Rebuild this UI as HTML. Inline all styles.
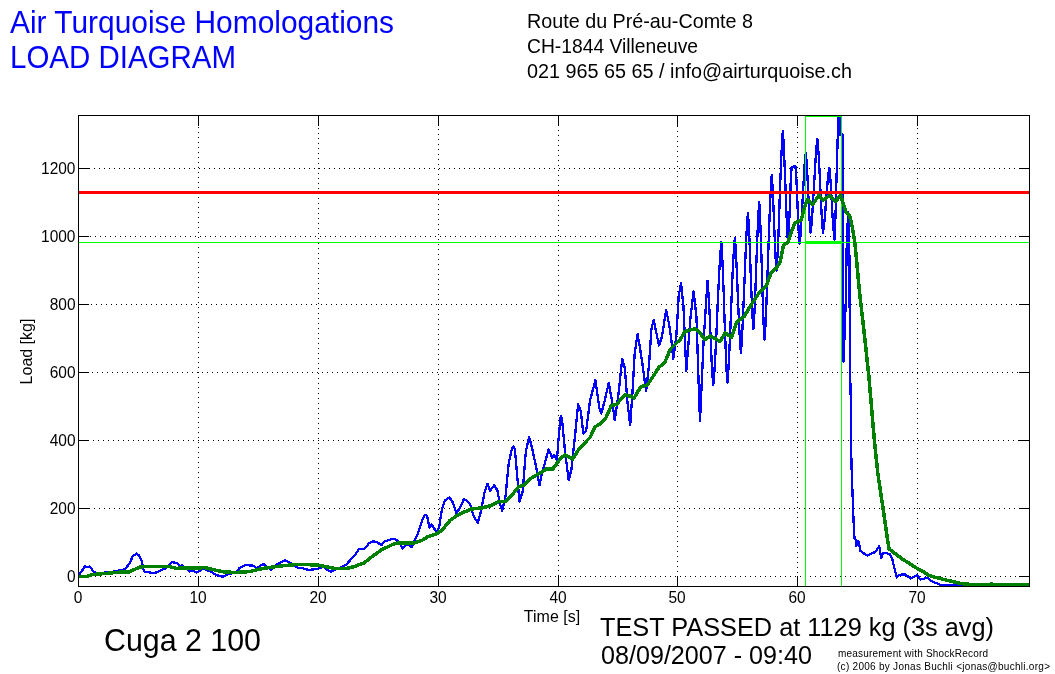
<!DOCTYPE html>
<html><head><meta charset="utf-8"><title>Load Diagram</title>
<style>html,body{margin:0;padding:0;background:#fff;}body{width:1055px;height:674px;overflow:hidden;}svg{display:block;}</style>
</head><body>
<svg width="1055" height="674" viewBox="0 0 1055 674">
<rect x="0" y="0" width="1055" height="674" fill="#fff"/>
<g stroke="#000" stroke-width="1" stroke-dasharray="1 4" shape-rendering="crispEdges"><line x1="198.5" y1="116" x2="198.5" y2="586" stroke-dashoffset="4"/><line x1="318.5" y1="116" x2="318.5" y2="586" stroke-dashoffset="3"/><line x1="438.5" y1="116" x2="438.5" y2="586" stroke-dashoffset="2"/><line x1="558.5" y1="116" x2="558.5" y2="586" stroke-dashoffset="1"/><line x1="677.5" y1="116" x2="677.5" y2="586" stroke-dashoffset="0"/><line x1="797.5" y1="116" x2="797.5" y2="586" stroke-dashoffset="4"/><line x1="917.5" y1="116" x2="917.5" y2="586" stroke-dashoffset="3"/><line x1="79" y1="576.5" x2="1029" y2="576.5" stroke-dashoffset="4"/><line x1="79" y1="508.5" x2="1029" y2="508.5" stroke-dashoffset="0"/><line x1="79" y1="440.5" x2="1029" y2="440.5" stroke-dashoffset="1"/><line x1="79" y1="372.5" x2="1029" y2="372.5" stroke-dashoffset="2"/><line x1="79" y1="304.5" x2="1029" y2="304.5" stroke-dashoffset="3"/><line x1="79" y1="236.5" x2="1029" y2="236.5" stroke-dashoffset="4"/><line x1="79" y1="168.5" x2="1029" y2="168.5" stroke-dashoffset="0"/></g>
<g stroke="#000" stroke-width="1" shape-rendering="crispEdges"><rect x="78.5" y="115.5" width="951" height="471" fill="none"/><line x1="78.5" y1="586" x2="78.5" y2="576"/><line x1="78.5" y1="115" x2="78.5" y2="126"/><line x1="198.5" y1="586" x2="198.5" y2="576"/><line x1="198.5" y1="115" x2="198.5" y2="126"/><line x1="318.5" y1="586" x2="318.5" y2="576"/><line x1="318.5" y1="115" x2="318.5" y2="126"/><line x1="438.5" y1="586" x2="438.5" y2="576"/><line x1="438.5" y1="115" x2="438.5" y2="126"/><line x1="558.5" y1="586" x2="558.5" y2="576"/><line x1="558.5" y1="115" x2="558.5" y2="126"/><line x1="677.5" y1="586" x2="677.5" y2="576"/><line x1="677.5" y1="115" x2="677.5" y2="126"/><line x1="797.5" y1="586" x2="797.5" y2="576"/><line x1="797.5" y1="115" x2="797.5" y2="126"/><line x1="917.5" y1="586" x2="917.5" y2="576"/><line x1="917.5" y1="115" x2="917.5" y2="126"/><line x1="78" y1="576.5" x2="89" y2="576.5"/><line x1="1030" y1="576.5" x2="1019" y2="576.5"/><line x1="78" y1="508.5" x2="89" y2="508.5"/><line x1="1030" y1="508.5" x2="1019" y2="508.5"/><line x1="78" y1="440.5" x2="89" y2="440.5"/><line x1="1030" y1="440.5" x2="1019" y2="440.5"/><line x1="78" y1="372.5" x2="89" y2="372.5"/><line x1="1030" y1="372.5" x2="1019" y2="372.5"/><line x1="78" y1="304.5" x2="89" y2="304.5"/><line x1="1030" y1="304.5" x2="1019" y2="304.5"/><line x1="78" y1="236.5" x2="89" y2="236.5"/><line x1="1030" y1="236.5" x2="1019" y2="236.5"/><line x1="78" y1="168.5" x2="89" y2="168.5"/><line x1="1030" y1="168.5" x2="1019" y2="168.5"/></g>
<defs><clipPath id="ax"><rect x="79" y="116" width="950" height="470"/></clipPath></defs>
<g clip-path="url(#ax)">
<polyline fill="none" stroke="#0000ff" stroke-width="2.3" stroke-linejoin="round" shape-rendering="crispEdges" points="78.5,575.5 79.3,574.5 82.4,570.2 84.9,566.5 87.3,566.9 89.5,566.5 91.6,569.0 93.5,571.4 96.0,572.7 99.6,573.0 103.3,572.7 109.5,572.3 114.4,571.4 118.1,570.6 121.8,570.2 125.5,568.6 129.2,564.0 132.9,556.0 136.6,553.6 139.1,555.4 141.5,560.3 142.2,563.4 143.4,569.6 145.2,572.3 148.9,572.3 153.9,573.3 158.8,571.4 162.5,569.6 166.2,568.1 169.9,564.0 172.4,561.9 174.8,562.8 177.3,563.4 179.7,565.9 182.2,565.3 183.4,566.5 185.9,567.7 189.6,571.4 193.3,570.8 196.4,572.7 199.5,570.8 203.7,568.1 207.4,570.6 211.1,571.8 216.0,574.9 222.2,576.8 228.3,574.3 230.8,573.7 237.0,571.8 239.4,568.1 245.6,565.0 253.0,565.7 256.7,568.1 260.4,565.7 263.5,564.2 266.5,566.3 270.9,570.0 273.9,566.9 277.6,563.8 281.3,562.0 285.0,560.1 288.7,562.0 291.2,563.2 297.4,567.5 304.7,568.7 308.4,570.0 313.4,569.4 318.3,568.7 323.2,566.9 326.9,569.4 330.6,571.8 333.5,570.4 340.5,567.6 346.2,564.8 350.4,559.9 354.6,555.6 358.8,549.3 363.1,549.3 365.9,547.2 368.7,543.6 373.6,541.2 377.9,542.7 381.4,545.1 384.2,541.5 388.5,540.1 392.7,538.7 395.5,539.4 398.3,541.5 401.1,545.8 402.6,548.3 405.4,545.1 409.6,545.1 411.7,547.2 413.8,541.5 418.1,533.1 422.3,519.7 425.1,514.7 427.2,516.2 429.3,527.4 431.5,524.6 433.6,527.4 436.4,532.4 439.2,526.7 442.0,509.1 444.9,500.6 449.1,497.5 451.9,500.6 452.4,501.6 456.5,513.0 459.8,508.1 463.9,499.2 468.0,501.6 470.4,504.9 473.7,516.3 477.7,522.8 481.0,511.4 484.3,493.4 487.5,483.7 490.0,491.0 494.1,485.3 497.3,490.2 499.8,503.2 502.2,510.6 505.5,496.7 508.8,462.4 512.0,448.6 513.5,446.5 514.8,448.6 516.9,472.2 519.4,501.6 522.6,491.8 525.9,451.0 529.2,437.1 532.4,449.4 536.5,469.0 539.4,485.3 542.2,472.2 545.5,460.8 548.7,449.4 552.0,457.5 554.5,455.1 556.9,460.8 558.5,439.6 560.7,416.2 562.0,418.9 564.7,448.3 568.7,480.3 571.4,469.7 575.4,432.2 578.1,404.2 580.7,410.9 583.4,433.6 586.1,430.9 590.1,400.2 595.4,380.1 599.4,408.2 601.3,413.5 604.8,400.2 608.8,382.8 612.8,405.5 614.7,420.2 618.1,397.5 622.2,358.7 624.8,368.1 627.5,402.8 630.2,425.0 632.4,393.4 634.7,353.1 637.6,334.1 640.0,348.3 641.9,360.2 646.1,391.1 649.0,365.0 651.4,329.3 653.7,319.9 656.6,334.1 659.0,345.5 662.0,336.5 666.1,309.9 669.2,324.6 671.5,341.2 673.2,359.0 676.3,336.5 678.7,296.1 681.0,283.1 683.4,305.6 686.3,370.9 690.5,317.5 693.6,291.4 696.5,317.5 698.4,376.8 700.0,421.0 703.6,341.2 707.5,280.7 708.2,289.2 709.0,301.4 709.7,316.4 710.4,332.9 711.1,349.5 711.8,364.5 712.6,376.7 713.3,385.2 714.3,373.6 715.3,356.9 716.3,336.4 717.3,313.8 718.3,291.2 719.3,270.7 720.3,254.0 721.3,242.4 722.1,253.8 722.8,270.2 723.6,290.4 724.3,312.6 725.1,334.7 725.9,354.9 726.6,371.3 727.4,382.7 728.3,370.9 729.2,354.0 730.2,333.2 731.1,310.2 732.0,287.3 732.9,266.5 733.9,249.6 734.8,237.8 735.6,247.2 736.3,260.6 737.1,277.2 737.8,295.4 738.6,313.6 739.4,330.2 740.1,343.6 740.9,353.0 741.8,341.6 742.6,325.3 743.5,305.2 744.4,283.1 745.3,261.1 746.1,241.0 747.0,224.7 747.9,213.3 748.6,222.7 749.3,236.2 750.0,252.8 750.6,271.1 751.3,289.5 752.0,306.1 752.7,319.6 753.4,329.0 754.1,318.6 754.9,303.8 755.6,285.5 756.3,265.4 757.0,245.2 757.8,226.9 758.5,212.1 759.2,201.7 759.9,212.9 760.5,229.0 761.2,248.8 761.9,270.6 762.5,292.4 763.2,312.2 763.8,328.3 764.5,339.5 765.4,326.1 766.3,306.9 767.2,283.3 768.1,257.2 769.0,231.2 769.9,207.6 770.8,188.4 771.7,175.0 772.3,182.8 772.9,194.0 773.5,207.7 774.1,222.9 774.7,238.1 775.3,251.8 775.9,263.0 776.5,270.8 777.3,259.4 778.1,243.2 778.9,223.1 779.6,201.1 780.4,179.1 781.2,159.0 782.0,142.8 782.8,131.4 783.5,140.5 784.1,153.6 784.8,169.6 785.5,187.3 786.1,205.0 786.8,221.0 787.4,234.1 788.1,243.2 788.5,237.0 789.0,228.1 789.4,217.2 789.9,205.1 790.3,193.0 790.7,182.1 791.2,173.2 791.6,167.0 792.1,166.9 792.5,166.8 793.0,166.7 793.5,166.5 794.0,166.3 794.5,166.2 794.9,166.1 795.4,166.0 795.9,172.3 796.5,181.4 797.0,192.5 797.5,204.8 798.0,217.0 798.5,228.1 799.1,237.2 799.6,243.5 800.4,236.1 801.1,225.5 801.9,212.4 802.7,198.1 803.5,183.7 804.2,170.6 805.0,160.0 805.8,152.6 806.4,159.1 807.0,168.5 807.6,179.9 808.2,192.6 808.8,205.3 809.4,216.7 810.0,226.1 810.6,232.6 811.5,225.0 812.3,214.1 813.1,200.6 814.0,185.8 814.9,171.1 815.7,157.6 816.5,146.7 817.4,139.1 818.1,146.7 818.8,157.6 819.5,171.1 820.2,185.8 820.9,200.6 821.6,214.1 822.3,225.0 823.0,232.6 823.8,227.3 824.6,219.7 825.4,210.4 826.1,200.1 826.9,189.9 827.7,180.6 828.5,173.0 829.3,167.7 829.9,173.6 830.6,182.0 831.2,192.3 831.9,203.8 832.5,215.2 833.2,225.5 833.9,233.9 834.5,239.8 835.0,229.7 835.5,215.4 836.0,197.7 836.5,178.2 837.1,158.6 837.6,140.9 838.1,126.6 838.6,116.5 839.9,116.5 839.9,134.5 842.4,134.5 842.4,250.0 843.6,361.5 845.8,300.0 846.8,240.0 848.2,212.0 849.2,225.0 849.6,300.0 850.3,380.0 850.8,400.0 851.4,462.4 852.2,485.0 853.5,520.0 854.5,538.3 856.7,540.4 856.2,545.6 858.8,541.5 860.3,550.9 862.9,552.9 867.6,555.5 871.3,553.5 875.5,551.9 879.1,546.2 880.1,550.9 881.2,558.2 882.8,553.5 885.9,552.7 890.1,554.5 892.1,558.2 894.2,567.5 896.8,577.4 899.4,574.8 904.7,574.3 910.9,578.5 915.1,576.4 917.2,574.8 920.3,579.5 923.4,579.0 927.6,577.4 930.7,580.6 933.1,582.1 936.3,583.2 940.4,584.7 961.3,585.2 1029.0,585.2"/>
<g stroke="#00ff00" stroke-width="1" fill="none" shape-rendering="crispEdges"><line x1="79" y1="242.5" x2="1029" y2="242.5"/><line x1="805.5" y1="116" x2="805.5" y2="586"/><line x1="841.5" y1="116" x2="841.5" y2="586"/><line x1="805" y1="116.5" x2="842" y2="116.5"/></g>
<rect x="805" y="241" width="37" height="3" fill="#00ff00" shape-rendering="crispEdges"/>
<rect x="79" y="191" width="950" height="3" fill="#ff0000" shape-rendering="crispEdges"/>
<polyline fill="none" stroke="#008000" stroke-width="3.5" stroke-linejoin="round" shape-rendering="crispEdges" points="78.5,576.5 87.3,576.4 92.3,574.5 105.8,573.5 118.1,572.3 129.2,571.8 134.2,569.6 140.3,566.9 148.9,566.5 168.7,566.5 176.0,568.3 205.0,567.7 212.3,569.4 224.6,572.1 237.0,572.4 249.3,571.6 261.6,568.7 273.9,566.9 286.3,565.4 298.6,564.4 317.1,565.0 330.0,567.5 336.3,568.6 346.2,568.6 353.2,566.9 364.5,562.7 371.5,557.0 381.4,550.0 392.7,544.4 398.3,543.0 413.8,543.0 422.3,540.1 427.9,536.6 436.4,533.8 442.0,530.3 447.7,523.2 450.0,520.4 458.2,514.7 471.2,509.0 482.6,507.8 490.8,505.7 499.0,501.6 505.5,501.6 512.0,495.1 518.5,486.9 523.4,485.3 531.6,477.9 541.4,472.2 546.3,469.0 552.8,469.0 560.0,459.2 564.7,455.0 572.7,459.0 579.4,448.3 590.0,437.5 595.3,426.8 600.7,423.4 606.0,417.5 611.4,405.5 616.7,404.2 624.7,394.8 630.0,396.1 634.0,398.3 640.7,386.8 647.4,384.9 654.1,374.8 659.4,366.8 664.7,362.8 670.1,349.4 675.4,344.1 680.8,338.8 684.8,331.5 690.1,329.9 695.4,328.9 699.5,332.1 704.8,339.6 710.1,336.1 715.5,338.8 720.0,341.4 725.3,332.8 731.6,337.4 736.8,321.8 744.1,316.6 750.3,306.2 754.4,300.0 759.6,292.1 765.8,286.8 771.2,272.5 776.5,268.1 780.1,261.9 783.6,244.9 788.1,242.3 791.7,230.7 795.2,222.7 801.2,220.1 804.3,207.6 807.5,199.3 812.7,204.5 818.9,195.2 823.0,200.4 829.3,195.6 835.5,201.4 840.7,195.2 843.8,205.6 845.9,211.8 849.4,214.9 852.1,226.3 854.9,242.9 859.6,292.7 864.2,333.1 868.9,376.7 874.2,438.5 877.7,472.6 882.8,506.8 886.2,530.6 889.0,548.8 894.2,552.9 902.6,559.2 910.9,564.4 918.2,569.1 923.4,571.7 928.6,575.4 933.8,576.9 940.4,578.5 945.6,580.0 952.9,581.6 959.2,583.2 964.4,584.0 976.9,584.7 991.5,584.2 1003.0,584.7 1029.0,585.0"/>
</g>
<g font-family='"Liberation Sans", Arial, Helvetica, sans-serif' font-size="15.5" fill="#000"><text transform="translate(78.0,603) scale(1,1.100)" text-anchor="middle">0</text><text transform="translate(198.0,603) scale(1,1.100)" text-anchor="middle">10</text><text transform="translate(318.0,603) scale(1,1.100)" text-anchor="middle">20</text><text transform="translate(438.0,603) scale(1,1.100)" text-anchor="middle">30</text><text transform="translate(558.0,603) scale(1,1.100)" text-anchor="middle">40</text><text transform="translate(677.0,603) scale(1,1.100)" text-anchor="middle">50</text><text transform="translate(797.0,603) scale(1,1.100)" text-anchor="middle">60</text><text transform="translate(917.0,603) scale(1,1.100)" text-anchor="middle">70</text><text transform="translate(75.5,582.0) scale(1,1.100)" text-anchor="end">0</text><text transform="translate(75.5,514.0) scale(1,1.100)" text-anchor="end">200</text><text transform="translate(75.5,446.0) scale(1,1.100)" text-anchor="end">400</text><text transform="translate(75.5,378.0) scale(1,1.100)" text-anchor="end">600</text><text transform="translate(75.5,310.0) scale(1,1.100)" text-anchor="end">800</text><text transform="translate(75.5,242.0) scale(1,1.100)" text-anchor="end">1000</text><text transform="translate(75.5,174.0) scale(1,1.100)" text-anchor="end">1200</text></g>
<text transform="translate(552,622) scale(1,1.04)" text-anchor="middle" font-family='"Liberation Sans", Arial, Helvetica, sans-serif' font-size="16">Time [s]</text>
<text transform="translate(32,351.5) rotate(-90) scale(1,1.04)" text-anchor="middle" font-family='"Liberation Sans", Arial, Helvetica, sans-serif' font-size="16">Load [kg]</text>
<text x="10.0" y="33.0" font-family='"Liberation Sans", Arial, Helvetica, sans-serif' font-size="31.50" fill="#0000ff" textLength="384.0" lengthAdjust="spacingAndGlyphs">Air Turquoise Homologations</text>
<text x="10.0" y="68.0" font-family='"Liberation Sans", Arial, Helvetica, sans-serif' font-size="31.50" fill="#0000ff" textLength="226.0" lengthAdjust="spacingAndGlyphs">LOAD DIAGRAM</text>
<text x="527.0" y="28.0" font-family='"Liberation Sans", Arial, Helvetica, sans-serif' font-size="20.30" fill="#000" textLength="226.0" lengthAdjust="spacingAndGlyphs">Route du Pré-au-Comte 8</text>
<text x="527.0" y="53.0" font-family='"Liberation Sans", Arial, Helvetica, sans-serif' font-size="20.30" fill="#000" textLength="171.0" lengthAdjust="spacingAndGlyphs">CH-1844 Villeneuve</text>
<text x="527.0" y="78.0" font-family='"Liberation Sans", Arial, Helvetica, sans-serif' font-size="20.30" fill="#000" textLength="325.0" lengthAdjust="spacingAndGlyphs">021 965 65 65 / info@airturquoise.ch</text>
<text x="104.0" y="651.0" font-family='"Liberation Sans", Arial, Helvetica, sans-serif' font-size="32.00" fill="#000" textLength="157.0" lengthAdjust="spacingAndGlyphs">Cuga 2 100</text>
<text x="600.0" y="636.0" font-family='"Liberation Sans", Arial, Helvetica, sans-serif' font-size="26.00" fill="#000" textLength="394.0" lengthAdjust="spacingAndGlyphs">TEST PASSED at 1129 kg (3s avg)</text>
<text x="601.0" y="664.0" font-family='"Liberation Sans", Arial, Helvetica, sans-serif' font-size="26.00" fill="#000" textLength="211.0" lengthAdjust="spacingAndGlyphs">08/09/2007 - 09:40</text>
<text x="838.0" y="657.0" font-family='"Liberation Sans", Arial, Helvetica, sans-serif' font-size="10.00" fill="#000" textLength="150.0" lengthAdjust="spacing">measurement with ShockRecord</text>
<text x="837.0" y="670.0" font-family='"Liberation Sans", Arial, Helvetica, sans-serif' font-size="10.00" fill="#000" textLength="213.0" lengthAdjust="spacing">(c) 2006 by Jonas Buchli &lt;jonas@buchli.org&gt;</text>
</svg>
</body></html>
